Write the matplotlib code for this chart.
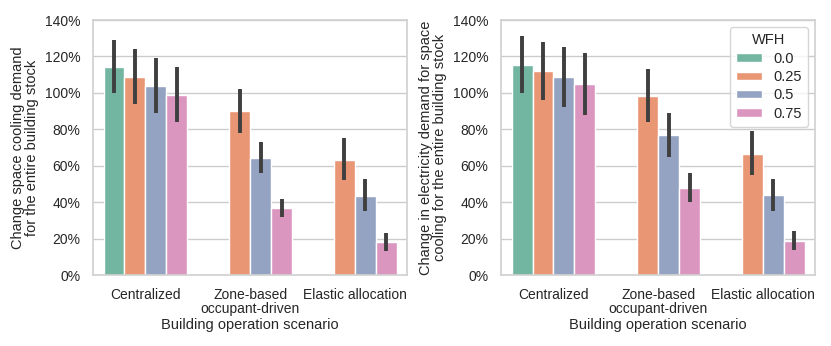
import numpy as np
import matplotlib
matplotlib.use("Agg")
import matplotlib.pyplot as plt
import seaborn as sns

scenarios = ["Centralized", "Zone-based\noccupant-driven", "Elastic allocation"]
wfh_levels = ["0.0", "0.25", "0.5", "0.75"]

# cooling demand (%), rows = WFH level, cols = scenario (nan = no bar)
cooling_mean = [[114.5, np.nan, np.nan],
                [109, 90, 63],
                [104, 64.5, 43.5],
                [99, 37, 18]]
cooling_lo = [[100, np.nan, np.nan],
              [94, 78, 52],
              [89, 56, 35],
              [84, 32, 13]]
cooling_hi = [[129, np.nan, np.nan],
              [124, 102, 75],
              [119, 73, 53],
              [114, 42, 23]]

# electricity for cooling (%)
elec_mean = [[115.5, np.nan, np.nan],
             [112, 98.5, 66.5],
             [108.5, 77, 44],
             [105, 48, 18.5]]
elec_lo = [[100, np.nan, np.nan],
           [96, 84, 55],
           [92, 65, 35],
           [88, 40, 14]]
elec_hi = [[131, np.nan, np.nan],
           [128, 113, 79],
           [125, 89, 53],
           [122, 56, 24]]

sns.set_theme(style="whitegrid")
plt.rcParams["font.family"] = ["Liberation Sans", "DejaVu Sans"]
# seaborn barplot desaturates the palette a bit
colors = [sns.desaturate(c, 0.75) for c in sns.color_palette("Set2", 4)]


def draw_panel(ax, mean, lo, hi, ylabel):
    x = np.arange(len(scenarios))
    w = 0.8 / len(wfh_levels)
    for i, lvl in enumerate(wfh_levels):
        m = np.array(mean[i], dtype=float)
        err = np.vstack([m - np.array(lo[i]), np.array(hi[i]) - m])
        pos = x - 0.4 + w * (i + 0.5)
        ax.bar(pos, m, width=w, color=colors[i], edgecolor="white",
               linewidth=1, label=lvl, zorder=2)
        ax.errorbar(pos, m, yerr=err, fmt="none", ecolor="#3f3f3f",
                    elinewidth=2.8, capsize=0, zorder=3)
    ax.set_xlim(-0.5, 2.5)
    ax.set_ylim(0, 140)
    ax.set_yticks(np.arange(0, 141, 20))
    ax.set_yticklabels([f"{v}%" for v in range(0, 141, 20)], fontsize=10)
    ax.set_xticks(x)
    ax.set_xticklabels(scenarios, fontsize=10, linespacing=1.0)
    ax.set_xlabel("Building operation scenario", fontsize=10.5, labelpad=2)
    ax.set_ylabel(ylabel, fontsize=10.5, linespacing=1.0)
    ax.tick_params(axis="both", pad=3)
    ax.grid(axis="x", visible=False)
    for s in ax.spines.values():
        s.set_color("#d0d0d0")
        s.set_linewidth(1.2)


fig = plt.figure(figsize=(8.31, 3.46), dpi=100)
ax1 = fig.add_axes([0.112, 0.205, 0.378, 0.737])
ax2 = fig.add_axes([0.603, 0.205, 0.378, 0.737])

draw_panel(ax1, cooling_mean, cooling_lo, cooling_hi,
           "Change space cooling demand\nfor the entire building stock")
draw_panel(ax2, elec_mean, elec_lo, elec_hi,
           "Change in electricity demand for space\ncooling for the entire building stock")

ax2.legend(title="WFH", loc="upper right", fontsize=10.5, title_fontsize=10.5,
           frameon=True, handlelength=1.8, handleheight=0.5,
           labelspacing=0.3, borderaxespad=0.5, borderpad=0.4,
           handletextpad=0.8)

fig.savefig("out.png", dpi=100)
